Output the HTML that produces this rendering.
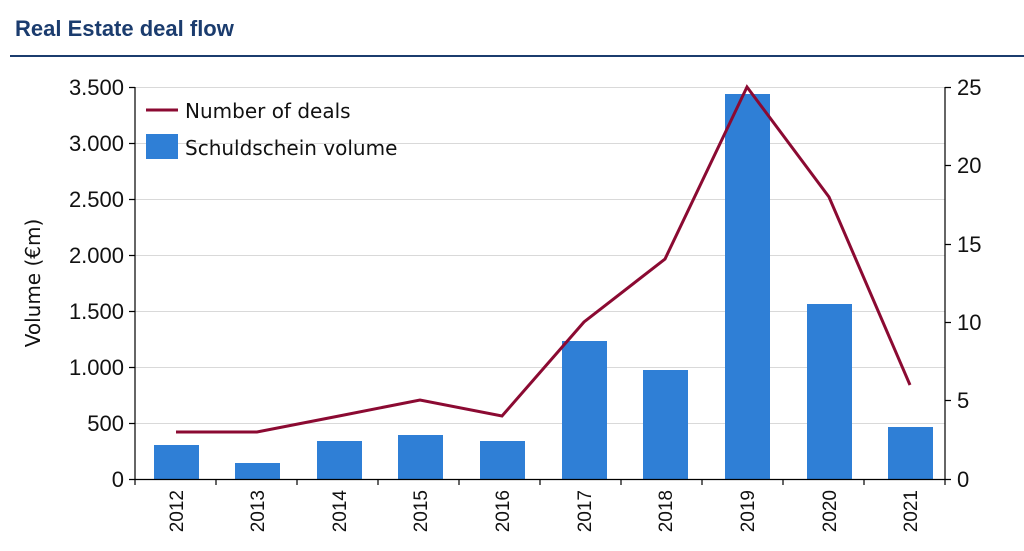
<!DOCTYPE html>
<html><head><meta charset="utf-8"><style>
body{margin:0;background:#fff;}
svg{display:block;}
</style></head><body>
<svg width="1024" height="551" xmlns="http://www.w3.org/2000/svg">
<text x="15" y="36" font-family="Liberation Sans, sans-serif" font-weight="bold" font-size="22" fill="#1b3c6e">Real Estate deal flow</text>
<rect x="10" y="55" width="1014" height="2" fill="#1b3c6e"/>
<g stroke="#d9d9d9" stroke-width="1">
<line x1="135" x2="945" y1="87.5" y2="87.5"/><line x1="135" x2="945" y1="143.5" y2="143.5"/>
<line x1="135" x2="945" y1="199.5" y2="199.5"/><line x1="135" x2="945" y1="255.5" y2="255.5"/>
<line x1="135" x2="945" y1="311.5" y2="311.5"/><line x1="135" x2="945" y1="367.5" y2="367.5"/>
<line x1="135" x2="945" y1="423.5" y2="423.5"/>
</g>
<g fill="#2f7fd6">
<rect x="154" y="445" width="45" height="34"/>
<rect x="235" y="463" width="45" height="16"/>
<rect x="317" y="441" width="45" height="38"/>
<rect x="398" y="435" width="45" height="44"/>
<rect x="480" y="441" width="45" height="38"/>
<rect x="562" y="341" width="45" height="138"/>
<rect x="643" y="370" width="45" height="109"/>
<rect x="725" y="94" width="45" height="385"/>
<rect x="807" y="304" width="45" height="175"/>
<rect x="888" y="427" width="45" height="52"/>
</g>
<polyline fill="none" stroke="#8b0a32" stroke-width="3" points="176,432 257,432 339,416 420,400 502,416 584,322 665,259 747,87 829,197 910,385"/>
<g stroke="#000" stroke-width="1.2" fill="none">
<line x1="135" y1="87" x2="135" y2="480"/><line x1="945" y1="87" x2="945" y2="480"/>
<line x1="135" y1="479.5" x2="945" y2="479.5"/>
<path d="M129 87.5h6M129 143.5h6M129 199.5h6M129 255.5h6M129 311.5h6M129 367.5h6M129 423.5h6M129 479.5h6"/>
<path d="M945 87.5h6M945 165.5h6M945 244.5h6M945 322.5h6M945 400.5h6M945 479.5h6"/>
<path d="M135 479v6M216 479v6M297 479v6M378 479v6M459 479v6M540 479v6M621 479v6M702 479v6M783 479v6M864 479v6M945 479v6"/>
</g>
<g font-family="Liberation Sans, sans-serif" font-size="22" fill="#111" text-anchor="end">
<text x="124" y="95">3.500</text><text x="124" y="151">3.000</text><text x="124" y="207">2.500</text>
<text x="124" y="263">2.000</text><text x="124" y="319">1.500</text><text x="124" y="375">1.000</text>
<text x="124" y="431">500</text><text x="124" y="487">0</text>
</g>
<g font-family="Liberation Sans, sans-serif" font-size="22" fill="#111">
<text x="957" y="95">25</text><text x="957" y="173">20</text><text x="957" y="252">15</text>
<text x="957" y="330">10</text><text x="957" y="408">5</text><text x="957" y="487">0</text>
</g>
<text transform="translate(40,283) rotate(-90)" text-anchor="middle" font-family="DejaVu Sans, sans-serif" font-size="20" fill="#111">Volume (€m)</text>
<g font-family="Liberation Sans, sans-serif" font-size="19" fill="#111" text-anchor="end">
<text transform="translate(183,490) rotate(-90)">2012</text>
<text transform="translate(264,490) rotate(-90)">2013</text>
<text transform="translate(346,490) rotate(-90)">2014</text>
<text transform="translate(427,490) rotate(-90)">2015</text>
<text transform="translate(509,490) rotate(-90)">2016</text>
<text transform="translate(591,490) rotate(-90)">2017</text>
<text transform="translate(672,490) rotate(-90)">2018</text>
<text transform="translate(754,490) rotate(-90)">2019</text>
<text transform="translate(836,490) rotate(-90)">2020</text>
<text transform="translate(917,490) rotate(-90)">2021</text>
</g>
<line x1="146" y1="110" x2="178" y2="110" stroke="#8b0a32" stroke-width="3"/>
<rect x="146" y="134" width="32" height="25" fill="#2f7fd6"/>
<g font-family="DejaVu Sans, sans-serif" font-size="20" fill="#111">
<text x="185" y="118">Number of deals</text>
<text x="185" y="155">Schuldschein volume</text>
</g>
</svg>
</body></html>
